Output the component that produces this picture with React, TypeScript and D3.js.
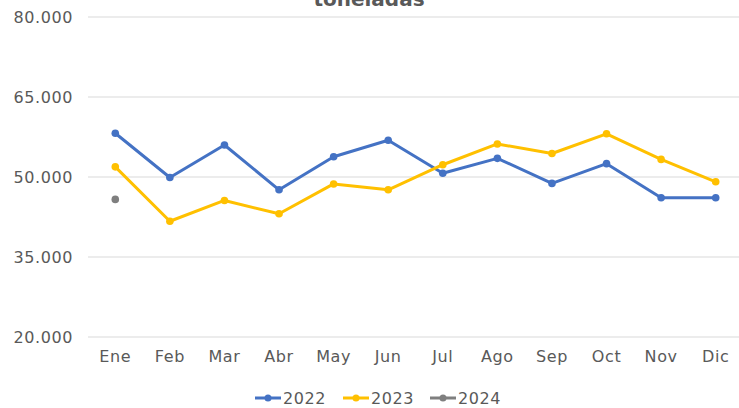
import { useEffect, useRef } from "react";
import * as d3 from "d3";

const months = ["Ene", "Feb", "Mar", "Abr", "May", "Jun", "Jul", "Ago", "Sep", "Oct", "Nov", "Dic"];
const values2022 = [58200, 49900, 56000, 47600, 53800, 56900, 50700, 53500, 48800, 52500, 46100, 46100];
const values2023 = [51900, 41700, 45600, 43100, 48700, 47600, 52300, 56200, 54400, 58100, 53300, 49100];
const values2024 = [45800];
const yTicks = [20000, 35000, 50000, 65000, 80000];

const series = [
    { name: "2022", color: "#4472C4", values: values2022 },
    { name: "2023", color: "#FFC000", values: values2023 },
    { name: "2024", color: "#7F7F7F", values: values2024 },
];

export default function App() {
    const chartRef = useRef<SVGSVGElement | null>(null);

    useEffect(() => {
        if (!chartRef.current) return;

        const width = 739;
        const height = 408;
        const font = "'DejaVu Sans', sans-serif";
        const textColor = "#595959";

        const svg = d3.select(chartRef.current);
        svg.selectAll("*").remove();
        svg.attr("width", width).attr("height", height);

        const x = d3.scaleBand().domain(months).range([88, 743]);
        const y = d3.scaleLinear().domain([20000, 80000]).range([337, 17]);
        const fmt = (v: number) => d3.format(",")(v).replace(/,/g, ".");

        // gridlines + y labels
        const grid = svg.append("g");
        grid.selectAll("line")
            .data(yTicks)
            .join("line")
            .attr("x1", 88)
            .attr("x2", width)
            .attr("y1", (d) => y(d))
            .attr("y2", (d) => y(d))
            .attr("stroke", "#d9d9d9")
            .attr("stroke-width", 1);

        grid.selectAll("text")
            .data(yTicks)
            .join("text")
            .attr("x", 73)
            .attr("y", (d) => y(d))
            .attr("dy", "0.35em")
            .attr("text-anchor", "end")
            .attr("font-family", font)
            .attr("font-size", "16px")
            .attr("letter-spacing", "0.6px")
            .attr("fill", textColor)
            .text((d) => fmt(d));

        // x labels
        svg.append("g")
            .selectAll("text")
            .data(months)
            .join("text")
            .attr("x", (d) => (x(d) as number) + x.bandwidth() / 2)
            .attr("y", 362)
            .attr("text-anchor", "middle")
            .attr("font-family", font)
            .attr("font-size", "16px")
            .attr("letter-spacing", "0.6px")
            .attr("fill", textColor)
            .text((d) => d);

        // title (cut off at the top, as in the source)
        svg.append("text")
            .attr("x", 369)
            .attr("y", 6)
            .attr("text-anchor", "middle")
            .attr("font-family", font)
            .attr("font-size", "20px")
            .attr("font-weight", "bold")
            .attr("fill", textColor)
            .text("toneladas");

        const line = d3.line<number>()
            .x((_, i) => (x(months[i]) as number) + x.bandwidth() / 2)
            .y((d) => y(d));

        series.forEach((s) => {
            const g = svg.append("g");
            if (s.values.length > 1) {
                g.append("path")
                    .attr("d", line(s.values) as string)
                    .attr("fill", "none")
                    .attr("stroke", s.color)
                    .attr("stroke-width", 3)
                    .attr("stroke-linejoin", "round");
            }
            g.selectAll("circle")
                .data(s.values)
                .join("circle")
                .attr("cx", (_, i) => (x(months[i]) as number) + x.bandwidth() / 2)
                .attr("cy", (d) => y(d))
                .attr("r", 3.8)
                .attr("fill", s.color);
        });

        // legend
        const legend = svg.append("g");
        const legendX = [255, 343, 430];
        series.forEach((s, i) => {
            const lx = legendX[i];
            legend.append("line")
                .attr("x1", lx)
                .attr("x2", lx + 26)
                .attr("y1", 398)
                .attr("y2", 398)
                .attr("stroke", s.color)
                .attr("stroke-width", 3);
            legend.append("circle")
                .attr("cx", lx + 13)
                .attr("cy", 398)
                .attr("r", 3.5)
                .attr("fill", s.color);
            legend.append("text")
                .attr("x", lx + 28)
                .attr("y", 398)
                .attr("dy", "0.35em")
                .attr("font-family", font)
                .attr("font-size", "16px")
                .attr("letter-spacing", "0.6px")
                .attr("fill", textColor)
                .text(s.name);
        });
    }, []);

    return (
        <svg
            ref={(el) => { if (el) chartRef.current = el; }}
            style={{ position: "absolute", left: 0, top: 0 }}
        />
    );
}
